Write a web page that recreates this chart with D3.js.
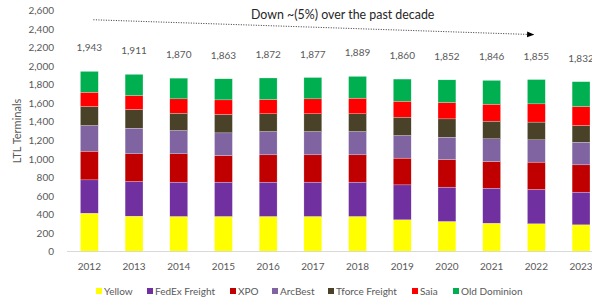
<!DOCTYPE html>
<html>
<head>
<meta charset="utf-8">
<script src="https://cdn.jsdelivr.net/npm/d3@7"></script>
<style>
  body { margin: 0; background: #fff; }
  svg text { font-family: Lato, "Open Sans", sans-serif; }
</style>
</head>
<body>
<div id="chart"></div>
<script>
var w = 592;
var h = 299;

// data
var years = ["2012","2013","2014","2015","2016","2017","2018","2019","2020","2021","2022","2023"];
var carriers = ["Yellow","FedEx Freight","XPO","ArcBest","Tforce Freight","Saia","Old Dominion"];
var yellow      = [413, 381, 378, 378, 378, 378, 378, 342, 324, 305, 299, 288];
var fedex       = [360, 374, 370, 370, 370, 370, 370, 377, 370, 378, 370, 352];
var xpo         = [309, 299, 306, 288, 295, 295, 295, 288, 298, 288, 295, 295];
var arcbest     = [277, 276, 251, 244, 251, 251, 251, 244, 241, 245, 241, 244];
var tforce      = [205, 202, 187, 198, 192, 192, 192, 198, 198, 190, 191, 180];
var saia        = [154, 151, 155, 158, 154, 161, 168, 172, 176, 183, 197, 205];
var oldDominion = [225, 228, 223, 227, 232, 230, 235, 239, 245, 257, 262, 268];
var yTicks = d3.range(0, 2601, 200);

var colors = ["#ffff00","#7030a0","#c00000","#8064a2","#4a4228","#ff0000","#00b050"];

var series = [yellow, fedex, xpo, arcbest, tforce, saia, oldDominion];
var rows = years.map(function(y, i) {
  var r = { year: y };
  carriers.forEach(function(c, k) { r[c] = series[k][i]; });
  r.total = d3.sum(series, function(s) { return s[i]; });
  return r;
});

var svg = d3.select("#chart")
  .append("svg")
  .attr("width", w)
  .attr("height", h);

var x = d3.scaleBand()
  .domain(years)
  .range([67, 603.4])
  .paddingInner(0.6)
  .paddingOuter(0.3);

var y = d3.scaleLinear()
  .domain([0, 2600])
  .range([251.5, 10.5]);

var stacked = d3.stack().keys(carriers)(rows);

//bars
svg.selectAll("g.layer")
  .data(stacked)
  .enter()
  .append("g")
  .attr("class", "layer")
  .attr("fill", function(d, i) { return colors[i]; })
  .selectAll("rect")
  .data(function(d) { return d; })
  .enter()
  .append("rect")
  .attr("x", function(d) { return x(d.data.year); })
  .attr("y", function(d) { return y(d[1]); })
  .attr("width", x.bandwidth())
  .attr("height", function(d) { return y(d[0]) - y(d[1]); })
  .attr("stroke", "#ffffff")
  .attr("stroke-width", 0.4)
  .attr("stroke-opacity", 0.6);

//baseline
svg.append("line")
  .attr("x1", 67).attr("x2", w)
  .attr("y1", y(0)).attr("y2", y(0))
  .style("stroke", "#d9d9d9")
  .style("stroke-width", 1);

//y axis
var yAxis = svg.append("g")
  .attr("transform", "translate(54,0)")
  .call(d3.axisLeft(y).tickValues(yTicks).tickSize(0).tickPadding(0).tickFormat(d3.format(",")));
yAxis.select(".domain").remove();
yAxis.selectAll("text")
  .attr("fill", "#595959")
  .style("font-size", "10px");

svg.append("text")
  .attr("transform", "translate(21,131) rotate(-90)")
  .attr("text-anchor", "middle")
  .attr("fill", "#595959")
  .style("font-size", "11px")
  .text("LTL Terminals");

//x axis
var xAxis = svg.append("g")
  .attr("transform", "translate(0," + y(0) + ")")
  .call(d3.axisBottom(x).tickSize(0).tickPadding(11));
xAxis.select(".domain").remove();
xAxis.selectAll("text")
  .attr("fill", "#595959")
  .style("font-size", "10px");

//totals
svg.selectAll("text.total")
  .data(rows)
  .enter()
  .append("text")
  .attr("class", "total")
  .attr("x", function(d) { return x(d.year) + x.bandwidth() / 2; })
  .attr("y", function(d) { return y(d.total) - 20; })
  .attr("text-anchor", "middle")
  .attr("fill", "#595959")
  .style("font-size", "10px")
  .text(function(d) { return d3.format(",")(d.total); });

//trend annotation
svg.append("defs").append("marker")
  .attr("id", "arrow")
  .attr("viewBox", "0 0 10 10")
  .attr("refX", 9).attr("refY", 5)
  .attr("markerWidth", 7).attr("markerHeight", 7)
  .attr("orient", "auto")
  .append("path")
  .attr("d", "M0,1L10,5L0,9Z")
  .attr("fill", "#000");

svg.append("line")
  .attr("x1", x("2012") + 13).attr("y1", y(2500))
  .attr("x2", x("2022") + 6).attr("y2", y(2340))
  .style("stroke", "#333")
  .style("stroke-width", 1)
  .style("stroke-dasharray", "1,1.5")
  .attr("marker-end", "url(#arrow)");

svg.append("text")
  .attr("x", 251)
  .attr("y", 19)
  .attr("fill", "#262626")
  .style("font-size", "12.4px")
  .text("Down ~(5%) over the past decade");

//legend
var legendX = [96, 147, 230, 272, 328, 412, 453];
var legend = svg.selectAll("g.legend")
  .data(carriers)
  .enter()
  .append("g")
  .attr("class", "legend")
  .attr("transform", function(d, i) { return "translate(" + legendX[i] + ",288)"; });
legend.append("rect")
  .attr("width", 6).attr("height", 6)
  .attr("fill", function(d, i) { return colors[i]; });
legend.append("text")
  .attr("x", 8).attr("y", 7)
  .attr("fill", "#595959")
  .style("font-size", "10px")
  .text(function(d) { return d; });
</script>
</body>
</html>
